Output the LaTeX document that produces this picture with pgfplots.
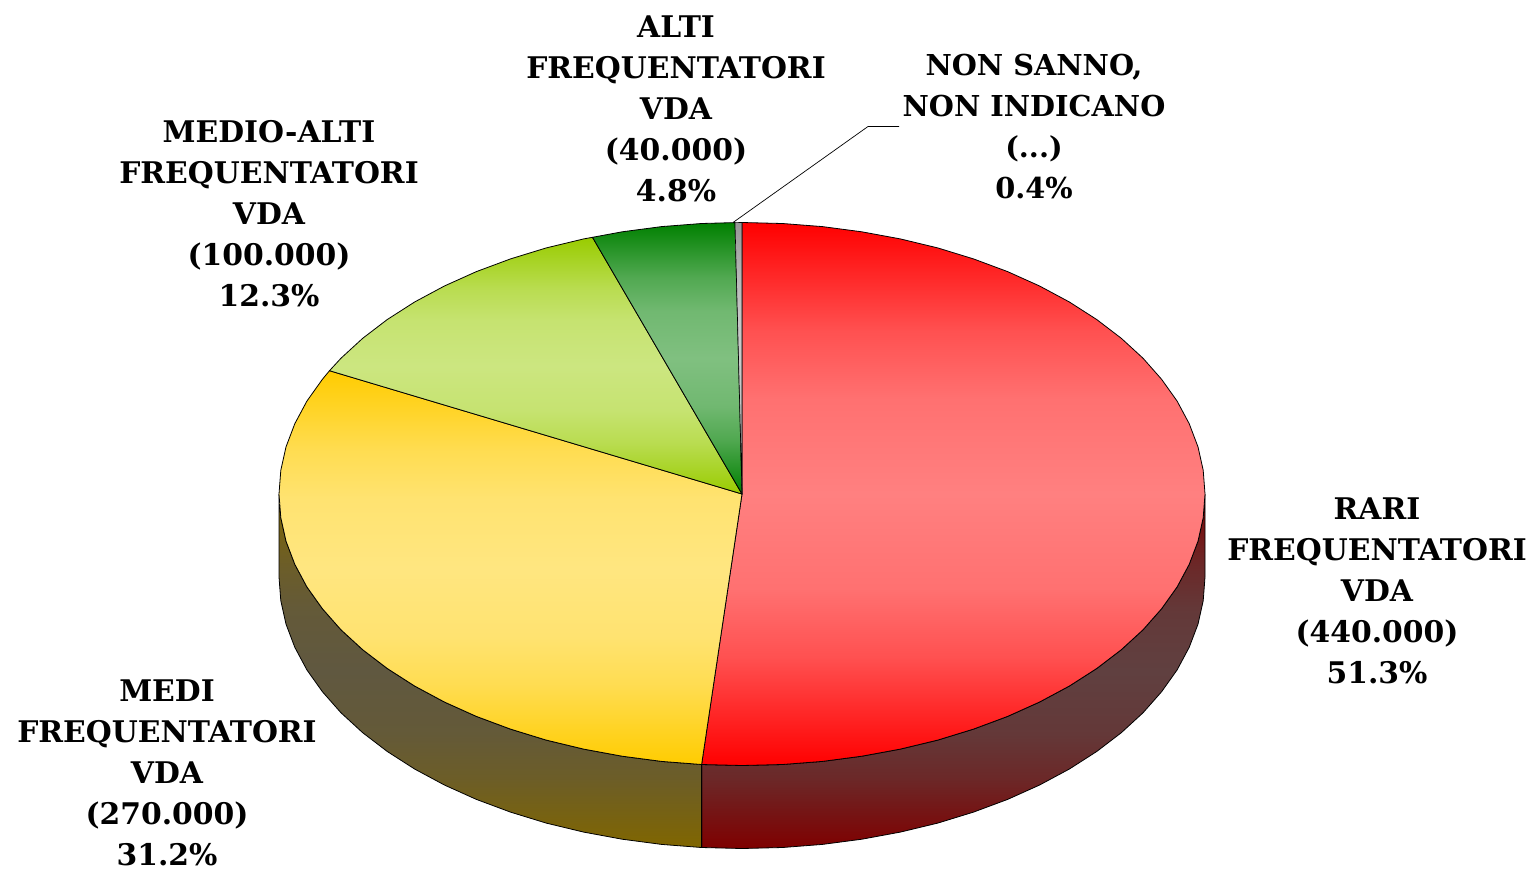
\documentclass[border=0pt]{standalone}
\usepackage{pgfplots}
\pgfplotsset{compat=1.18}
\usepackage{fontspec}
\setmainfont{DejaVu Serif}[BoldFont={DejaVu Serif Bold}]
\newcommand{\mkshade}[3]{%
  \definecolor{#1A}{HTML}{#2}\definecolor{#1D}{HTML}{#3}%
  \colorlet{#1B}{#1D!63!#1A}\colorlet{#1C}{#1D!88!#1A}%
  \pgfdeclareverticalshading{#1}{100bp}{color(0bp)=(#1A); color(25bp)=(#1A); color(35bp)=(#1B); color(41.25bp)=(#1C); color(50bp)=(#1D); color(58.75bp)=(#1C); color(65bp)=(#1B); color(75bp)=(#1A); color(100bp)=(#1A)}}
\mkshade{sred}{FF0000}{FF8080}
\mkshade{syel}{FFCC00}{FFE680}
\mkshade{slim}{99CC00}{CCE680}
\mkshade{sgrn}{008000}{80C080}
\mkshade{sgry}{969696}{CBCBCB}
\mkshade{swr}{7F0000}{604040}
\mkshade{swy}{806600}{605840}
\tikzset{lab/.style={align=center,inner sep=0pt,font=\fontsize{29.8}{41}\selectfont\bfseries}}
\begin{document}
\begin{tikzpicture}
\begin{axis}[at={(0,0)},anchor=south west,scale only axis,width=1533pt,height=870pt,
  xmin=0,xmax=1533,ymin=0,ymax=870,y dir=reverse,axis lines=none,clip=false,
  every axis plot/.append style={line width=0.8pt,mark=none,line join=round}]
% side wall: rari
\addplot[draw=black,shade,shading=swr] coordinates {
(1205,494)(1203.2,517.7)(1198,541.1)(1189.2,564.3)(1177.1,586.9)(1161.6,608.7)(1143,629.8)(1121.3,649.7)(1096.7,668.5)(1069.4,686)(1039.6,702)(1007.6,716.4)(973.5,729.1)(937.7,740.1)(900.3,749.1)(861.8,756.2)(822.4,761.4)(782.4,764.5)(742,765.5)(701.6,764.5)
(701.6,847.5)(742,848.5)(782.4,847.5)(822.4,844.4)(861.8,839.2)(900.3,832.1)(937.7,823.1)(973.5,812.1)(1007.6,799.4)(1039.6,785)(1069.4,769)(1096.7,751.5)(1121.3,732.7)(1143,712.8)(1161.6,691.7)(1177.1,669.9)(1189.2,647.3)(1198,624.1)(1203.2,600.7)(1205,577)(1205,494)};
% side wall: medi
\addplot[draw=black,shade,shading=swy] coordinates {
(279,494)(280.8,517.7)(286,541.1)(294.8,564.3)(306.9,586.9)(322.4,608.7)(341,629.8)(362.7,649.7)(387.3,668.5)(414.6,686)(444.4,702)(476.4,716.4)(510.5,729.1)(546.3,740.1)(583.7,749.1)(622.2,756.2)(661.6,761.4)(701.6,764.5)
(701.6,847.5)(661.6,844.4)(622.2,839.2)(583.7,832.1)(546.3,823.1)(510.5,812.1)(476.4,799.4)(444.4,785)(414.6,769)(387.3,751.5)(362.7,732.7)(341,712.8)(322.4,691.7)(306.9,669.9)(294.8,647.3)(286,624.1)(280.8,600.7)(279,577)(279,494)};
% top: rari 51.3
\addplot[draw=black,shade,shading=sred] coordinates {
(742,494)(742,222.5)(782.4,223.5)(822.4,226.6)(861.8,231.8)(900.3,238.9)(937.7,247.9)(973.5,258.9)(1007.6,271.6)(1039.6,286)(1069.4,302)(1096.7,319.5)(1121.3,338.3)(1143,358.2)(1161.6,379.3)(1177.1,401.1)(1189.2,423.7)(1198,446.9)(1203.2,470.3)(1205,494)(1203.2,517.7)(1198,541.1)(1189.2,564.3)(1177.1,586.9)(1161.6,608.7)(1143,629.8)(1121.3,649.7)(1096.7,668.5)(1069.4,686)(1039.6,702)(1007.6,716.4)(973.5,729.1)(937.7,740.1)(900.3,749.1)(861.8,756.2)(822.4,761.4)(782.4,764.5)(742,765.5)(701.6,764.5)(742,494)};
% top: medi 31.2
\addplot[draw=black,shade,shading=syel] coordinates {
(742,494)(701.6,764.5)(661.6,761.4)(622.2,756.2)(583.7,749.1)(546.3,740.1)(510.5,729.1)(476.4,716.4)(444.4,702)(414.6,686)(387.3,668.5)(362.7,649.7)(341,629.8)(322.4,608.7)(306.9,586.9)(294.8,564.3)(286,541.1)(280.8,517.7)(279,494)(280.8,470.3)(286,446.9)(294.8,423.7)(306.9,401.1)(322.4,379.3)(329.5,370.7)(742,494)};
% top: medio-alti 12.3
\addplot[draw=black,shade,shading=slim] coordinates {
(742,494)(329.5,370.7)(341,358.2)(362.7,338.3)(387.3,319.5)(414.6,302)(444.4,286)(476.4,271.6)(510.5,258.9)(546.3,247.9)(583.7,238.9)(592.5,237.3)(742,494)};
% top: alti 4.8
\addplot[draw=black,shade,shading=sgrn] coordinates {
(742,494)(592.5,237.3)(622.2,231.8)(661.6,226.6)(701.6,223.5)(735,222.6)(742,494)};
% top: non sanno 0.4
\addplot[draw=black,line width=0.6pt,shade,shading=sgry] coordinates {(742,494)(735,222.6)(742,222.5)(742,494)};
% leader line
\addplot[draw=black,line width=0.7pt] coordinates {(733,222.5)(868,126.5)(899,126.5)};
\node[lab] at (axis cs:676,109) {ALTI\\FREQUENTATORI\\VDA\\(40.000)\\4.8\%};
\node[lab,font=\fontsize{28.8}{41}\selectfont\bfseries] at (axis cs:1034,127) {NON SANNO,\\NON INDICANO\\(...)\\0.4\%};
\node[lab] at (axis cs:269,214) {MEDIO-ALTI\\FREQUENTATORI\\VDA\\(100.000)\\12.3\%};
\node[lab] at (axis cs:167,772.5) {MEDI\\FREQUENTATORI\\VDA\\(270.000)\\31.2\%};
\node[lab] at (axis cs:1377,591) {RARI\\FREQUENTATORI\\VDA\\(440.000)\\51.3\%};
\end{axis}
\pgfresetboundingbox
\path[use as bounding box] (0,0) rectangle (1533pt,870pt);
\end{tikzpicture}
\end{document}
